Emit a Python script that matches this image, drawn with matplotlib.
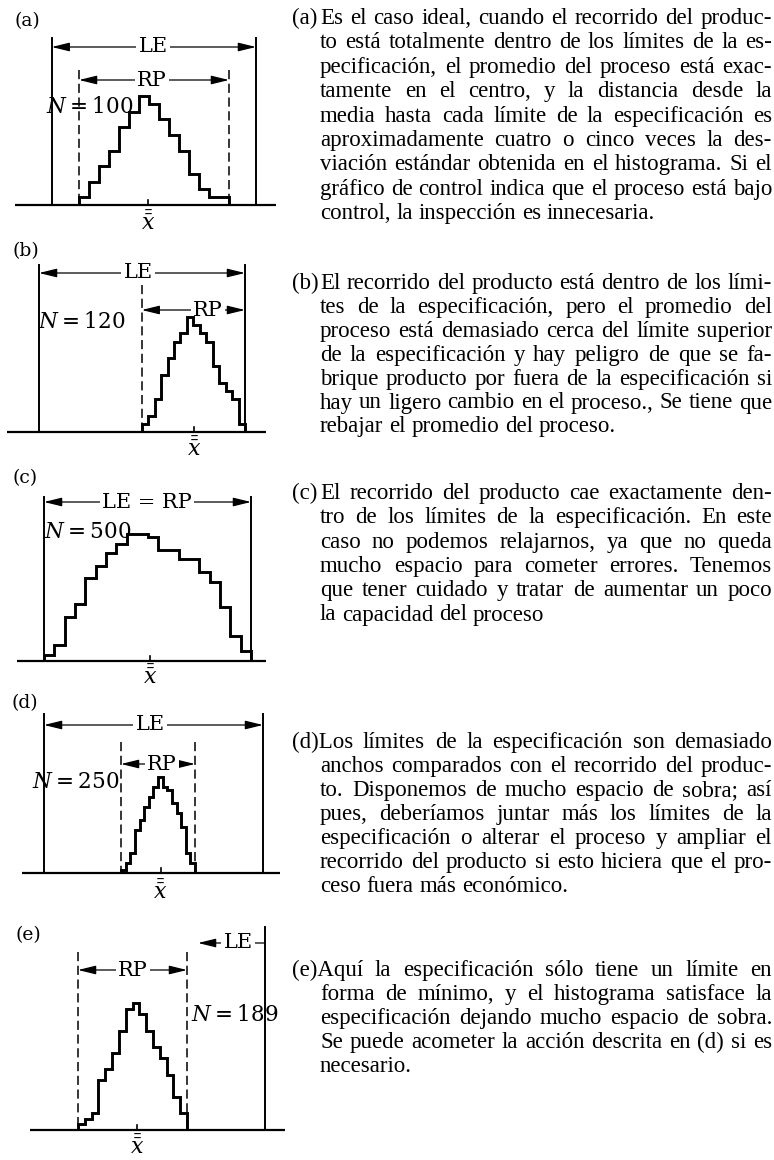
import matplotlib
matplotlib.use("Agg")
import matplotlib.pyplot as plt
import matplotlib.transforms as mtransforms
import numpy as np

W, H = 774, 1160

# class counts of each histogram
counts_a = [1, 3, 5, 7, 10, 12, 14, 13, 11, 9, 7, 4, 2, 1, 1]
counts_b = [1, 2, 4, 7, 9, 11, 12, 14, 13, 12, 11, 8, 6, 5, 4, 1]
counts_c = [2, 5, 14, 18, 26, 30, 34, 37, 40, 40, 39, 35, 35, 32, 32, 28, 25, 17, 8, 3]
counts_d = [1, 3, 6, 13, 16, 20, 23, 26, 29, 26, 25, 21, 18, 14, 6, 3]
counts_e = [1, 2, 3, 9, 11, 14, 18, 22, 23, 21, 18, 15, 13, 10, 6, 3]
sample_sizes = [100, 120, 500, 250, 189]
case_labels = ["(a)", "(b)", "(c)", "(d)", "(e)"]
spec_labels = ["LE", "LE", "LE = RP", "LE", "LE"]

text_a = [
    "Es el caso ideal, cuando el recorrido del produc-",
    "to está totalmente dentro de los límites de la es-",
    "pecificación, el promedio del proceso está exac-",
    "tamente en el centro, y la distancia desde la",
    "media hasta cada límite de la especificación es",
    "aproximadamente cuatro o cinco veces la des-",
    "viación estándar obtenida en el histograma. Si el",
    "gráfico de control indica que el proceso está bajo",
    "control, la inspección es innecesaria.",
]
text_b = [
    "El recorrido del producto está dentro de los lími-",
    "tes de la especificación, pero el promedio del",
    "proceso está demasiado cerca del límite superior",
    "de la especificación y hay peligro de que se fa-",
    "brique producto por fuera de la especificación si",
    "hay un ligero cambio en el proceso., Se tiene que",
    "rebajar el promedio del proceso.",
]
text_c = [
    "El recorrido del producto cae exactamente den-",
    "tro de los límites de la especificación. En este",
    "caso no podemos relajarnos, ya que no queda",
    "mucho espacio para cometer errores. Tenemos",
    "que tener cuidado y tratar de aumentar un poco",
    "la capacidad del proceso",
]
text_d = [
    "(d)Los límites de la especificación son demasiado",
    "anchos comparados con el recorrido del produc-",
    "to. Disponemos de mucho espacio de sobra; así",
    "pues, deberíamos juntar más los límites de la",
    "especificación o alterar el proceso y ampliar el",
    "recorrido del producto si esto hiciera que el pro-",
    "ceso fuera más económico.",
]
text_e = [
    "(e)Aquí la especificación sólo tiene un límite en",
    "forma de mínimo, y el histograma satisface la",
    "especificación dejando mucho espacio de sobra.",
    "Se puede acometer la acción descrita en (d) si es",
    "necesario.",
]

# ---- layout (pixels, y measured downward) ----
panels = [
    dict(counts=counts_a, label_xy=(27, 21), base=205, base_x=(15, 276), hist_x=(79, 229), peak=109,
         spec_x=[51.7, 256], spec_top=38, le_y=47, le_x=153, le_span=(51.7, 256),
         rp=(True, True), rp_top=70, rp_y=80, rp_x=152, n_xy=(133, 107), n_ha="right", xbar_y=222),
    dict(counts=counts_b, label_xy=(26, 251), base=432, base_x=(7, 266), hist_x=(141.7, 245), peak=115,
         spec_x=[39, 245], spec_top=265, le_y=273, le_x=138, le_span=(39, 245),
         rp=(True, False), rp_top=285, rp_y=310, rp_x=208, n_xy=(82, 322), n_ha="center", xbar_y=448),
    dict(counts=counts_c, label_xy=(25, 478), base=661, base_x=(17, 266), hist_x=(44, 251), peak=127,
         spec_x=[44, 251], spec_top=497, le_y=502, le_x=147, le_span=(44, 251),
         rp=None, n_xy=(88, 532), n_ha="center", xbar_y=676),
    dict(counts=counts_d, label_xy=(25, 703), base=873, base_x=(22, 280), hist_x=(121, 195), peak=96,
         spec_x=[44, 263], spec_top=714, le_y=725, le_x=150, le_span=(44, 263),
         rp=(True, True), rp_top=742, rp_y=764, rp_x=162, n_xy=(119, 782), n_ha="right", xbar_y=891),
    dict(counts=counts_e, label_xy=(28, 935), base=1130, base_x=(30, 285), hist_x=(78, 187), peak=127,
         spec_x=[265], spec_top=927, le_y=943, le_x=238, le_span=(198, 265),
         rp=(True, True), rp_top=952, rp_y=970, rp_x=133, n_xy=(191, 1015), n_ha="left", xbar_y=1146),
]

paragraphs = [
    ("(a)", text_a, 24, 24.4),
    ("(b)", text_b, 289, 23.9),
    ("(c)", text_c, 499, 24.3),
    (None, text_d, 748, 24.0),
    (None, text_e, 976, 24.0),
]

BODY_FONT = "Liberation Serif"
BODY_FS = 16.5
FIG_FONT = "DejaVu Serif"
plt.rcParams["mathtext.fontset"] = "dejavuserif"

fig = plt.figure(figsize=(W / 100, H / 100), dpi=100)
ax = fig.add_axes([0, 0, 1, 1])
ax.set_xlim(0, W)
ax.set_ylim(H, 0)
ax.axis("off")

ARROW = dict(arrowstyle="<|-|>,head_length=0.9,head_width=0.22", color="black", lw=0.9,
             shrinkA=0, shrinkB=0, mutation_scale=12)
ONE_ARROW = dict(ARROW, arrowstyle="-|>,head_length=0.9,head_width=0.22")
BOX = dict(facecolor="white", edgecolor="none", pad=1.5)


def draw_panel(i, p):
    counts = np.asarray(p["counts"])
    n = len(counts)
    x0, x1 = p["hist_x"]
    hx = fig.add_axes([x0 / W, 1 - p["base"] / H, (x1 - x0) / W, p["peak"] / H])
    hx.set_xlim(0, n)
    hx.set_ylim(0, counts.max())
    hx.axis("off")
    hx.patch.set_alpha(0)
    hx.stairs(counts, np.arange(n + 1), baseline=0, color="black", lw=2.1,
              clip_on=False, zorder=3).set_joinstyle("miter")

    # x from the histogram scale, y in page pixels
    blend = mtransforms.blended_transform_factory(hx.transData, ax.transData)
    mean = np.sum((np.arange(n) + 0.5) * counts) / counts.sum()

    ax.plot(p["base_x"], [p["base"], p["base"]], color="black", lw=1.6, solid_capstyle="butt")
    for sx in p["spec_x"]:
        ax.plot([sx, sx], [p["spec_top"], p["base"]], color="black", lw=1.4)
    ax.plot([mean, mean], [p["base"] - 5, p["base"]], color="black", lw=1.2, transform=blend)
    ax.text(mean, p["xbar_y"], r"$\bar{\bar{x}}$", transform=blend, ha="center", va="center",
            fontsize=16)
    ax.text(*p["label_xy"], case_labels[i], ha="center", va="center", fontsize=13.5, family=FIG_FONT)

    # specification width
    la, lb = p["le_span"]
    if len(p["spec_x"]) == 2:
        ax.annotate("", xy=(la, p["le_y"]), xytext=(lb, p["le_y"]), arrowprops=ARROW)
    else:
        ax.annotate("", xy=(la, p["le_y"]), xytext=(lb, p["le_y"]), arrowprops=ONE_ARROW)
    ax.text(p["le_x"], p["le_y"], spec_labels[i], ha="center", va="center", fontsize=15,
            family=FIG_FONT, bbox=BOX, zorder=4)

    # product range
    if p["rp"] is not None:
        for edge, show in zip((0, n), p["rp"]):
            if show:
                ax.plot([edge, edge], [p["rp_top"], p["base"]], color="black", lw=1.1,
                        linestyle=(0, (6, 3)), transform=blend)
        ax.annotate("", xy=(0, p["rp_y"]), xytext=(n, p["rp_y"]), xycoords=blend,
                    textcoords=blend, arrowprops=ARROW)
        ax.text(p["rp_x"], p["rp_y"], "RP", ha="center", va="center", fontsize=15,
                family=FIG_FONT, bbox=BOX, zorder=4)

    ax.text(*p["n_xy"], f"$N$\u2009=\u2009{sample_sizes[i]}", ha=p["n_ha"], va="center",
            fontsize=15.5, family=FIG_FONT)


def draw_line(words, x0, x1, y, justify, renderer):
    texts = [ax.text(0, y, w, fontsize=BODY_FS, family=BODY_FONT, va="baseline", ha="left")
             for w in words]
    widths = [t.get_window_extent(renderer).width for t in texts]
    gap = BODY_FS * 100 / 72 * 0.25
    if justify and len(words) > 1:
        gap = max(2.5, (x1 - x0 - sum(widths)) / (len(words) - 1))
    x = x0
    for t, w in zip(texts, widths):
        t.set_x(x)
        x += w + gap


for i, p in enumerate(panels):
    draw_panel(i, p)

renderer = fig.canvas.get_renderer()
LABEL_X, BODY_X, RIGHT_X = 292, 320, 772
for tag, lines, y0, step in paragraphs:
    for k, line in enumerate(lines):
        y = y0 + k * step
        last = k == len(lines) - 1
        if tag is not None:
            if k == 0:
                ax.text(LABEL_X, y, tag, fontsize=BODY_FS, family=BODY_FONT, va="baseline")
            draw_line(line.split(), BODY_X, RIGHT_X, y, not last, renderer)
        else:
            start = LABEL_X if k == 0 else BODY_X
            draw_line(line.split(), start, RIGHT_X, y, not last, renderer)

fig.savefig("out.png", dpi=100)
